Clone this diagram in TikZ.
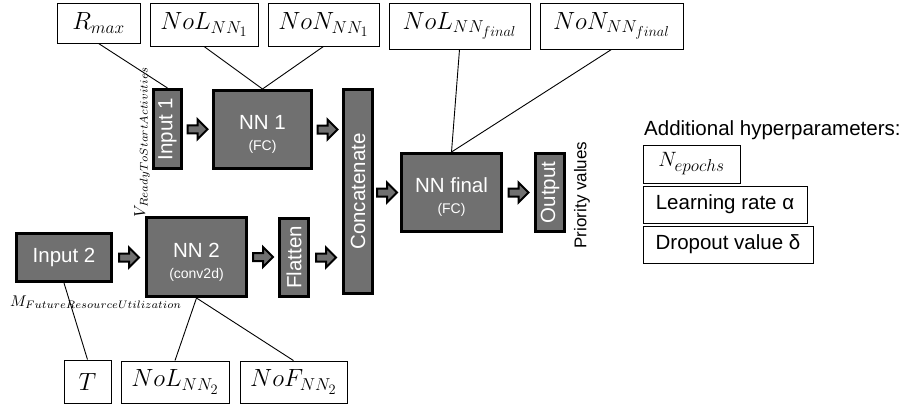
\documentclass[tikz,border=0pt]{standalone}
\usepackage{fontspec}
\newfontfamily\arialf{Liberation Sans}
\usetikzlibrary{calc}
\DeclareMathSizes{23}{23}{18}{14}
\DeclareMathSizes{21}{21}{17}{13}
\definecolor{blockgray}{HTML}{707070}
% block arrow centred on a point, pointing right
\newcommand\blockarrowat[1]{%
  \draw[blockarrow] #1 ++(-10,-4) -- ++(10,0) -- ++(0,-6) -- ++(10,10)
    -- ++(-10,10) -- ++(0,-6) -- ++(-10,0) -- cycle;}
% layer title with a smaller second line
\newcommand\twoline[2]{\rule{0pt}{24pt}#1\\{\fontsize{14}{15}\selectfont #2}}
\begin{document}
\begin{tikzpicture}[x=1pt,y=-1pt,
  param/.style={draw=black, line width=0.9pt, fill=white, inner sep=0pt,
    font=\fontsize{23}{26}\selectfont},
  layer/.style={draw=black, line width=3pt, fill=blockgray, inner sep=0pt,
    text=white, font=\arialf\fontsize{20.5}{21}\selectfont, align=center},
  link/.style={draw=black, line width=0.9pt},
  blockarrow/.style={draw=black, line width=2pt, fill=blockgray, line join=miter},
  note/.style={inner sep=0pt, font=\arialf\fontsize{20.5}{22}\selectfont},
]
\useasboundingbox (0,0) rectangle (909,405);

% hyperparameter boxes along the top
\node[param, minimum width=83, minimum height=40] (rmax) at (98.5,23) {$R_{max}$};
\node[param, minimum width=108, minimum height=43] (nol1) at (204,24.5) {$NoL_{NN_1}$};
\node[param, minimum width=111, minimum height=43] (non1) at (323.5,24.5) {$NoN_{NN_1}$};
\node[param, minimum width=141, minimum height=46] (nolf) at (459.5,26) {$NoL_{NN_{final}}$};
\node[param, minimum width=143, minimum height=46] (nonf) at (611.5,26) {$NoN_{NN_{final}}$};

% hyperparameter boxes along the bottom
\node[param, minimum width=47, minimum height=43] (tbox) at (87.5,381.5) {$T$};
\node[param, minimum width=108, minimum height=42] (nol2) at (175,382) {$NoL_{NN_2}$};
\node[param, minimum width=107, minimum height=42] (nof2) at (293.5,382) {$NoF_{NN_2}$};

% network layers
\node[layer, minimum width=28, minimum height=79] (in1) at (167.5,129) {\rotatebox{90}{Input 1}};
\node[layer, minimum width=98, minimum height=78] (nn1) at (262.5,129.5) {\twoline{NN 1}{(FC)}};
\node[layer, minimum width=29, minimum height=204] (cat) at (358,191.5) {\rotatebox{90}{Concatenate}};
\node[layer, minimum width=100, minimum height=78] (nnf) at (451.5,192.5) {\twoline{NN final}{(FC)}};
\node[layer, minimum width=29, minimum height=78] (out) at (550,192.5) {\rotatebox{90}{Output}};
\node[layer, minimum width=95, minimum height=48] (in2) at (64,257.5) {Input 2};
\node[layer, minimum width=100, minimum height=79] (nn2) at (196.5,257) {\twoline{NN 2}{(conv2d)}};
\node[layer, minimum width=29, minimum height=78] (fl) at (294,257.5) {\rotatebox{90}{Flatten}};

% input and output labels
\node[inner sep=0pt] (vlab) at (142,142) {\rotatebox{90}{\resizebox{150pt}{!}{$V_{ReadyToStartActivities}$}}};
\node[inner sep=0pt] (mlab) at (96,302) {\resizebox{172pt}{!}{$M_{FutureResourceUtilization}$}};
\node[note, font=\arialf\fontsize{17}{19}\selectfont] (prio) at (582,195) {\rotatebox{90}{Priority values}};

% additional hyperparameters
\node[note, anchor=west] (addh) at (644,130) {Additional hyperparameters:};
\node[param, minimum width=97, minimum height=38, font=\fontsize{21}{23}\selectfont] (nep) at (691.5,164) {$N_{epochs}$};
\node[param, minimum width=164, minimum height=37, font=\arialf\fontsize{20.5}{22}\selectfont] (lr) at (725,204.5) {Learning rate α};
\node[param, minimum width=170, minimum height=37, font=\arialf\fontsize{20.5}{22}\selectfont] (dv) at (728,244.5) {Dropout value δ};

% hyperparameter links
\draw[link] (rmax.south) -- (in1.north);
\draw[link] (nol1.south) -- (nn1.north);
\draw[link] (non1.south) -- (nn1.north);
\draw[link] (nolf.south) -- (nnf.north);
\draw[link] (nonf.south) -- (nnf.north);
\draw[link] (tbox.north) -- (in2.south);
\draw[link] (nol2.north) -- (nn2.south);
\draw[link] (nof2.north) -- (nn2.south);

% data flow
\blockarrowat{($(in1.east)!0.5!(nn1.west)$)}
\blockarrowat{($(nn1.east)!0.5!(nn1.east -| cat.west)$)}
\blockarrowat{($(in2.east)!0.5!(in2.east -| nn2.west)$)}
\blockarrowat{($(nn2.east)!0.5!(nn2.east -| fl.west)$)}
\blockarrowat{($(fl.east)!0.5!(fl.east -| cat.west)$)}
\blockarrowat{($(nnf.west -| cat.east)!0.5!(nnf.west)$)}
\blockarrowat{($(nnf.east)!0.5!(out.west)$)}
\end{tikzpicture}
\end{document}
